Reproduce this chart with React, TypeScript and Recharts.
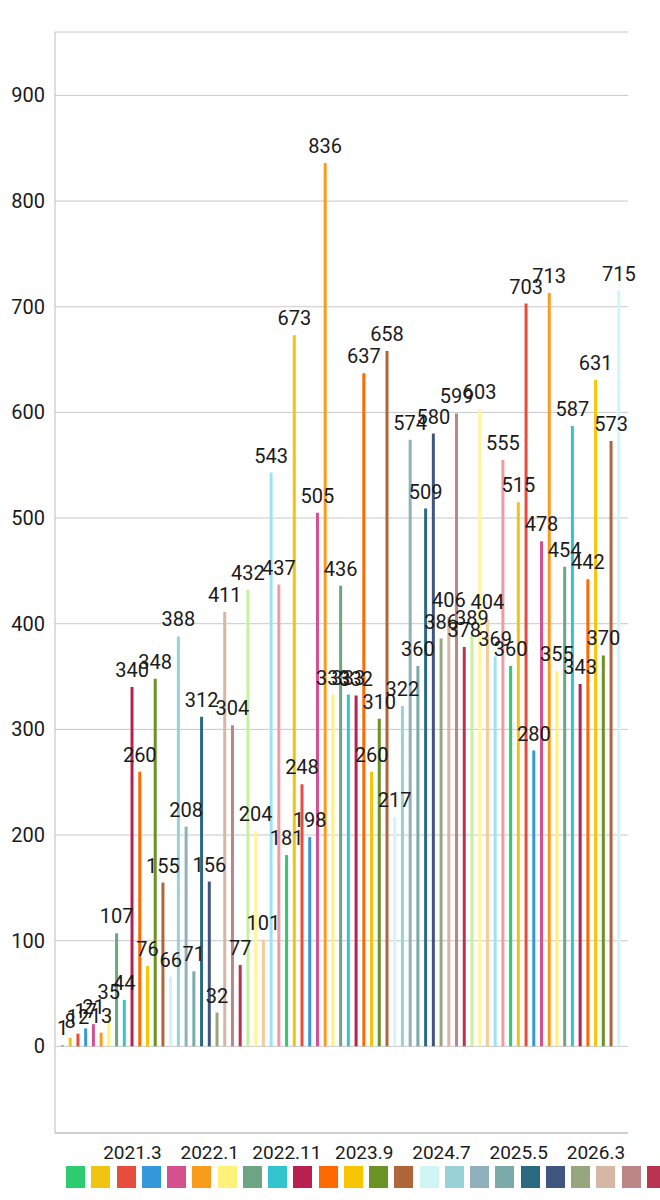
import { BarChart, Bar, XAxis, YAxis, CartesianGrid, Cell, LabelList } from 'recharts'

// monthly categories, 2020.6 .. 2026.6
const months = [
  '2020.6', '2020.7', '2020.8', '2020.9', '2020.10', '2020.11', '2020.12',
  '2021.1', '2021.2', '2021.3', '2021.4', '2021.5', '2021.6', '2021.7', '2021.8', '2021.9', '2021.10', '2021.11', '2021.12',
  '2022.1', '2022.2', '2022.3', '2022.4', '2022.5', '2022.6', '2022.7', '2022.8', '2022.9', '2022.10', '2022.11', '2022.12',
  '2023.1', '2023.2', '2023.3', '2023.4', '2023.5', '2023.6', '2023.7', '2023.8', '2023.9', '2023.10', '2023.11', '2023.12',
  '2024.1', '2024.2', '2024.3', '2024.4', '2024.5', '2024.6', '2024.7', '2024.8', '2024.9', '2024.10', '2024.11', '2024.12',
  '2025.1', '2025.2', '2025.3', '2025.4', '2025.5', '2025.6', '2025.7', '2025.8', '2025.9', '2025.10', '2025.11', '2025.12',
  '2026.1', '2026.2', '2026.3', '2026.4', '2026.5', '2026.6',
]

const values = [
  1, 8, 12, 17, 21, 13, 35, 107, 44, 340, 260, 76, 348, 155, 66, 388, 208, 71, 312, 156,
  32, 411, 304, 77, 432, 204, 101, 543, 437, 181, 673, 248, 198, 505, 836, 333, 436, 333,
  332, 637, 260, 310, 658, 217, 322, 574, 360, 509, 580, 386, 406, 599, 378, 389, 603, 404,
  369, 555, 360, 515, 703, 280, 478, 713, 355, 454, 587, 343, 442, 631, 370, 573, 715,
]

const palette = [
  '#2ECC71', '#F1C40F', '#E74C3C', '#3498DB', '#D4508F', '#F99C1C', '#FFF27A', '#6BA583',
  '#33C4CF', '#B8204F', '#FF6A00', '#F7C600', '#6B9225', '#B0653A', '#CFF6F4', '#98D2D6',
  '#8FB0BC', '#7AABA9', '#2A6A80', '#40557F', '#97A67C', '#D6B6A5', '#BC8586', '#B83450',
  '#C8F29A', '#FFF59D', '#F7CB98', '#9BE4F5', '#F29BA4',
]

const yTicks = [0, 100, 200, 300, 400, 500, 600, 700, 800, 900]
const shownMonths = ['2021.3', '2022.1', '2022.11', '2023.9', '2024.7', '2025.5', '2026.3']

const data = months.map((month, i) => ({ month, value: values[i] }))

function SquareLegend() {
  return (
    <div style={{ position: 'absolute', left: 0, top: 1166, width: 660, height: 24, overflow: 'hidden' }}>
      {months.map((m, i) => (
        <div
          key={m}
          style={{
            position: 'absolute',
            left: 66 + i * 25.25,
            top: 0,
            width: 19,
            height: 22,
            background: palette[i % palette.length],
          }}
        />
      ))}
    </div>
  )
}

export default function App() {
  return (
    <div
      style={{
        position: 'absolute',
        left: 0,
        top: 0,
        width: 660,
        height: 1200,
        background: '#fff',
        overflow: 'hidden',
        fontFamily: 'Roboto, sans-serif',
      }}
    >
      <BarChart
        width={660}
        height={1200}
        data={data}
        margin={{ top: 32, right: 32, bottom: 37, left: 0 }}
        barCategoryGap={0}
      >
        <CartesianGrid vertical={false} stroke="#c8c8c8" />
        <XAxis
          dataKey="month"
          interval={0}
          tickLine={false}
          tickSize={0}
          tickMargin={13}
          height={30}
          padding={{ left: 4, right: 5 }}
          stroke="#bdbdbd"
          tick={{ fontSize: 19, fill: '#1a1a1a' }}
          tickFormatter={(v: string) => (shownMonths.includes(v) ? v : '')}
        />
        <YAxis
          width={55}
          domain={[-82, 960]}
          ticks={yTicks}
          tickLine={false}
          tickSize={0}
          tickMargin={10}
          stroke="#bdbdbd"
          tick={{ fontSize: 20, fill: '#1a1a1a' }}
        />
        <Bar dataKey="value" barSize={3} isAnimationActive={false}>
          {data.map((d, i) => (
            <Cell key={d.month} fill={palette[i % palette.length]} />
          ))}
          <LabelList dataKey="value" position="top" offset={10} fontSize={20} fill="#1a1a1a" />
        </Bar>
      </BarChart>
      <SquareLegend />
    </div>
  )
}
